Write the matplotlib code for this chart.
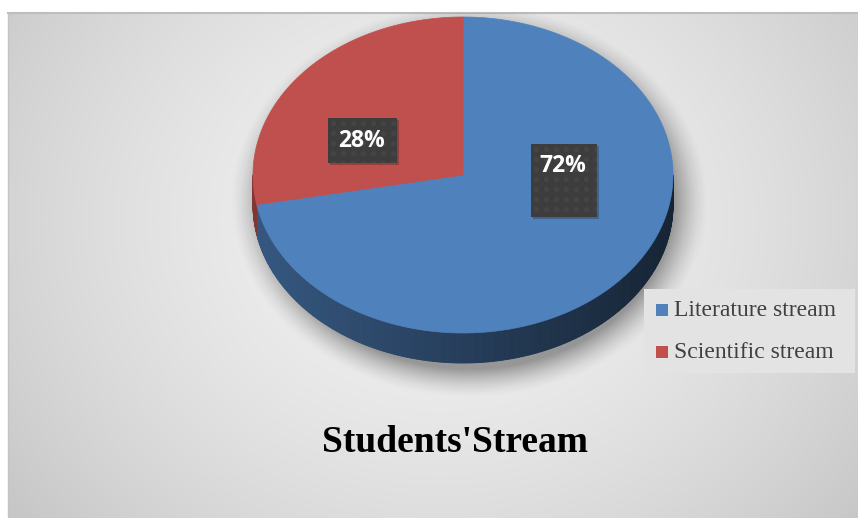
import numpy as np
import matplotlib.pyplot as plt
from matplotlib.patches import Polygon, Rectangle
from matplotlib.collections import PolyCollection
from matplotlib.colors import to_rgb

streams = ["Literature stream", "Scientific stream"]
shares = [72, 28]
labels = ["72%", "28%"]
colors = ["#4f81bd", "#c0504d"]
title = "Students'Stream"

W, H = 858, 518
fig = plt.figure(figsize=(W / 100, H / 100), dpi=100)
ax = fig.add_axes([0, 0, 1, 1])
ax.set_xlim(0, W)
ax.set_ylim(H, 0)
ax.axis("off")

# chart area with soft radial gradient
x0, y0 = 8, 13
gx, gy = np.meshgrid(np.arange(x0, W), np.arange(y0, H))
d = np.hypot(gx - 440, (gy - 220) * 1.15) / 480
bg = np.clip(0.95 - 0.14 * d ** 1.6, 0.76, 0.96)
ax.imshow(np.dstack([bg, bg, bg]), extent=(x0, W, H, y0), zorder=0)
ax.plot([x0, W], [y0 - 0.5, y0 - 0.5], color="#bdbdbd", lw=1.5, zorder=1)
ax.plot([x0, x0], [y0, H], color="#c4c4c4", lw=1, zorder=1)

# pie geometry (pixels)
cx, cy, a, b, depth = 463, 175, 210, 158, 30

def pt(theta):
    t = np.radians(theta)
    return cx + a * np.sin(t), cy - b * np.cos(t)

# soft drop shadow beneath the pie
sx, sy = np.meshgrid(np.arange(x0, W), np.arange(y0, H))
r = np.hypot((sx - cx - 6) / (a + 12), (sy - cy - depth / 2 - 10) / (b + depth / 2 + 10))
sh = 0.36 * np.clip((1.08 - r) / 0.16, 0, 1) ** 1.5
shadow = np.zeros((sh.shape[0], sh.shape[1], 4))
shadow[..., 3] = sh
ax.imshow(shadow, extent=(x0, W, H, y0), zorder=2)

# slice angles, clockwise from the back of the pie
fracs = np.array(shares, dtype=float) / sum(shares)
ends = np.cumsum(fracs) * 360
starts = ends - fracs * 360

# side walls for the front half
for s, e, c in zip(starts, ends, colors):
    lo, hi = max(s, 90), min(e, 270)
    if hi <= lo:
        continue
    th = np.linspace(lo, hi, int(hi - lo) * 2 + 2)
    quads, fcs = [], []
    base = np.array(to_rgb(c))
    for t1, t2 in zip(th[:-1], th[1:]):
        xa, ya = pt(t1)
        xb, yb = pt(t2)
        quads.append([(xa, ya), (xb, yb), (xb, yb + depth), (xa, ya + depth)])
        k = 0.48 - 0.2 * np.sin(np.radians((t1 + t2) / 2))
        fcs.append(np.clip(base * k, 0, 1))
    ax.add_collection(PolyCollection(quads, facecolors=fcs, edgecolors=fcs,
                                     linewidths=0.6, zorder=3))

# top faces
for s, e, c in zip(starts, ends, colors):
    th = np.linspace(s, e, int(e - s) * 2 + 2)
    xs, ys = pt(th)
    verts = [(cx, cy)] + list(zip(xs, ys))
    ax.add_patch(Polygon(verts, closed=True, facecolor=c, edgecolor=c,
                         lw=0.5, zorder=4))

# data labels on dark dotted boxes
boxes = [(531, 144, 66, 73, 563, 166), (328, 118, 69, 45, 362, 141)]

def dotted(w, h):
    yy, xx = np.mgrid[0:h, 0:w]
    pat = np.full((h, w), 0.24)
    dots = ((xx % 10 - 5) ** 2 + (yy % 10 - 5) ** 2) < 6
    pat[dots] = 0.27
    return np.dstack([pat, pat, pat])

for (bx, by, bw, bh, tx, ty), lab in zip(boxes, labels):
    ax.add_patch(Rectangle((bx + 2, by + 2), bw, bh, facecolor="black",
                           alpha=0.22, lw=0, zorder=5))
    ax.imshow(dotted(bw, bh), extent=(bx, bx + bw, by + bh, by), zorder=6)
    ax.text(tx, ty, lab, color="white", fontsize=16.5, fontweight="bold",
            family="Open Sans", ha="center", va="center", zorder=7)

# legend
ax.add_patch(Rectangle((644, 289), 211, 84, facecolor="#e3e3e3",
                       edgecolor="none", zorder=5))
for i, (name, c) in enumerate(zip(streams, colors)):
    yc = 310 + i * 42
    ax.add_patch(Rectangle((656, yc - 6), 12, 12, facecolor=c, lw=0, zorder=6))
    ax.text(674, yc, name, fontsize=17, family="Liberation Serif",
            color="#404040", va="center", ha="left", zorder=6)

ax.text(455, 452, title, fontsize=27, fontweight="bold",
        family="Liberation Serif", color="black", ha="center",
        va="baseline", zorder=6)

fig.savefig("out.png", dpi=100)
